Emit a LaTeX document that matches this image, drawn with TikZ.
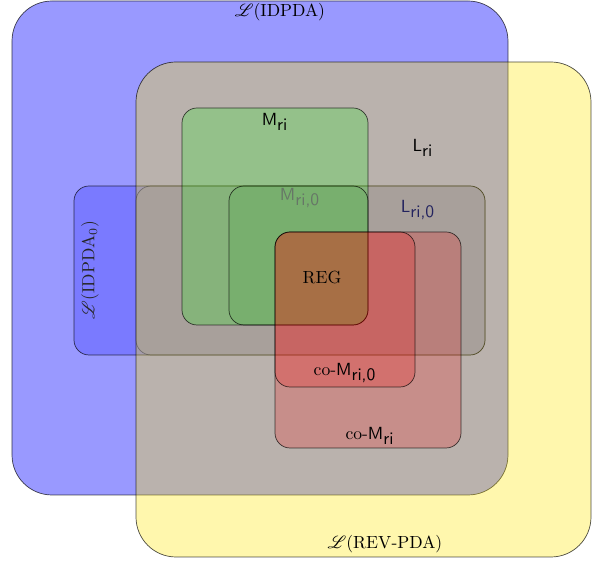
\documentclass[tikz,border=0pt]{standalone}
\usepackage{mathrsfs}
\definecolor{revyellow}{RGB}{255,231,0}
\definecolor{lrigray}{RGB}{175,167,113}
\definecolor{navytext}{RGB}{35,35,95}
\begin{document}
\begin{tikzpicture}[scale=0.2]
    \tikzstyle{every node}+=[inner sep=0pt]
    \tikzstyle{bigset}=[draw=black, draw opacity=0.7, rounded corners=0.8cm]
    \tikzstyle{subset}=[draw=black, draw opacity=0.7, rounded corners=0.3cm]
    \useasboundingbox (0,0) rectangle (59.2,-56.4);
    \draw [bigset, fill=blue, fill opacity=0.4] (1.2,-0.1) rectangle (50.8,-49.5);
    \draw [subset, fill=blue, fill opacity=0.2] (7.4,-18.6) rectangle (48.5,-35.5);
    \node (lidpdaz) at (9.0,-27.0) [rotate=90, text=black!85] {$\mathscr{L}(\mathrm{IDPDA}_0)$};
    \draw [bigset, fill=revyellow, fill opacity=0.32] (13.6,-6.2) rectangle (59.1,-55.7);
    \draw [subset, draw opacity=0.3, fill=lrigray, fill opacity=0.3] (13.6,-18.6) rectangle (48.5,-35.5);
    \node (lrizero) at (41.8,-21.0) [text=navytext] {$\textsf{L}_{\textsf{ri,0}}$};
    \draw [subset, fill=green, fill opacity=0.2] (18.2,-10.8) rectangle (36.8,-32.5);
    \node (mrizero) at (30.0,-19.8) [text=black!55] {$\textsf{M}_{\textsf{ri,0}}$};
    \draw [subset, fill=green!60!black, fill opacity=0.1] (22.9,-18.6) rectangle (36.8,-32.5);
    \draw [subset, fill=red, fill opacity=0.2] (27.5,-23.2) rectangle (46.1,-44.8);
    \draw [subset, fill=red, fill opacity=0.2] (27.5,-23.2) rectangle (41.5,-38.7);
    \node (lidpda) at (28.0,-1.2) {$\mathscr{L}(\mathrm{IDPDA})$};
    \node (lrevpda) at (38.5,-54.4) {$\mathscr{L}(\mathrm{REV\mbox{-}PDA})$};
    \node (lri) at (42.3,-14.8) {$\textsf{L}_{\textsf{ri}}$};
    \node (mri) at (27.5,-12.2) {$\textsf{M}_{\textsf{ri}}$};
    \node (reg) at (32.2,-27.8) {REG};
    \node (comrizero) at (34.5,-37.3) {co-$\textsf{M}_{\textsf{ri,0}}$};
    \node (comri) at (37.0,-43.6) {co-$\textsf{M}_{\textsf{ri}}$};
\end{tikzpicture}
\end{document}
